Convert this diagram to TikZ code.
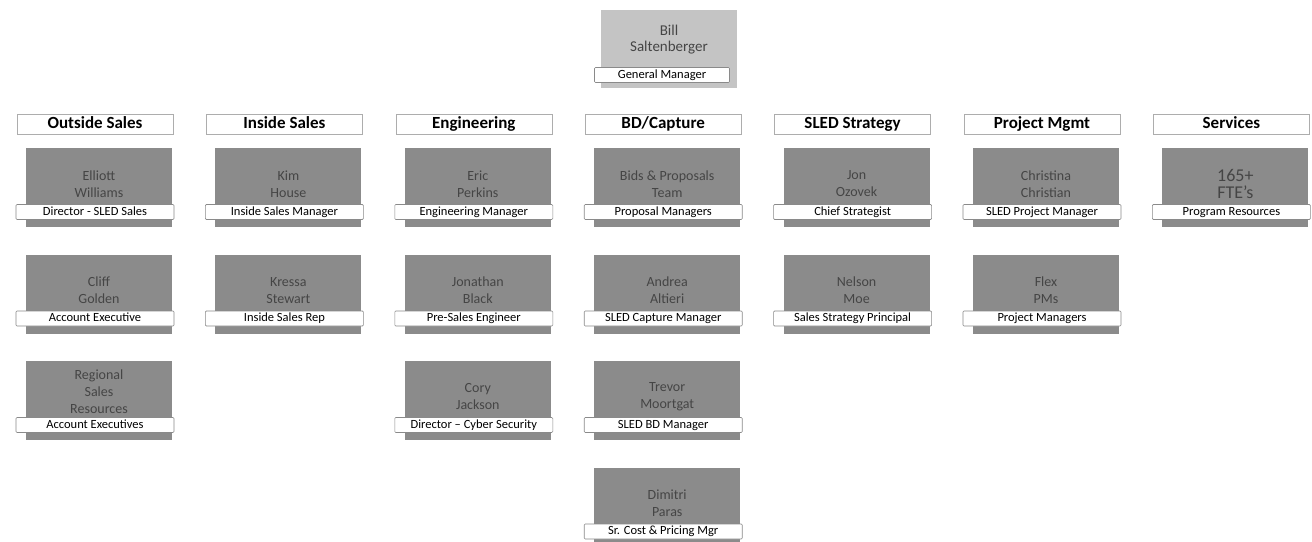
\documentclass[tikz,border=0pt]{standalone}
\usepackage{fontspec}
\setmainfont{Carlito}
\definecolor{boxgray}{HTML}{8B8B8B}
\definecolor{topgray}{HTML}{C4C4C4}
\definecolor{nametxt}{HTML}{454545}
\definecolor{edgegray}{HTML}{8A8A8A}
\tikzset{
  namebox/.style={draw=none, fill=boxgray, inner sep=0pt, minimum width=146pt, minimum height=79pt},
  topbox/.style={draw=none, fill=topgray, inner sep=0pt, minimum width=136pt, minimum height=78pt},
  nametext/.style={text=nametxt, font=\fontsize{14}{17}\selectfont, align=center, inner sep=0pt},
  titlebox/.style={draw=edgegray, line width=0.6pt, fill=white, rounded corners=1pt, inner sep=0pt, minimum width=158pt, minimum height=15pt, text height=9pt, text depth=2.5pt, font=\fontsize{12.5}{13}\selectfont},
  headbox/.style={draw=edgegray!70, line width=0.5pt, fill=white, inner sep=0pt, minimum width=156pt, minimum height=20pt, text height=12pt, text depth=3.5pt, font=\bfseries\fontsize{17}{18}\selectfont}
}
\newcommand\orgperson[6][36]{%
  \pgfmathsetmacro\cx{99+189.4*#3}%
  \pgfmathsetmacro\ty{148+106.5*#4}%
  \node[namebox, anchor=north] (#2) at (\cx,\ty) {};
  \node[nametext] (#2t) at (\cx,\ty+#1) {#5};
  \node[titlebox] (#2l) at (\cx-4,\ty+64) {#6};
}
\newcommand\orghead[3]{%
  \pgfmathsetmacro\cx{95+189.4*#2}%
  \node[headbox] (#1) at (\cx,124) {#3};
}
\begin{document}
\begin{tikzpicture}[x=1pt,y=-1pt]
\useasboundingbox[fill=white] (0,0) rectangle (1312,541);
% top
\node[topbox, anchor=north] (gm) at (669,10) {};
\node[nametext, font=\fontsize{15}{16}\selectfont] (gmt) at (669,40) {Bill\\Saltenberger};
\node[titlebox, minimum width=135pt] (gml) at (662,75) {General Manager};
% headers
\orghead{h0}{0}{Outside Sales}
\orghead{h1}{1}{Inside Sales}
\orghead{h2}{2}{Engineering}
\orghead{h3}{3}{BD/Capture}
\orghead{h4}{4}{SLED Strategy}
\orghead{h5}{5}{Project Mgmt}
\orghead{h6}{6}{Services}
% column 0
\orgperson{p00}{0}{0}{Elliott\\Williams}{Director - SLED Sales}
\orgperson{p01}{0}{1}{Cliff\\Golden}{Account Executive}
\orgperson[31]{p02}{0}{2}{Regional\\Sales\\Resources}{Account Executives}
% column 1
\orgperson{p10}{1}{0}{Kim\\House}{Inside Sales Manager}
\orgperson{p11}{1}{1}{Kressa\\Stewart}{Inside Sales Rep}
% column 2
\orgperson{p20}{2}{0}{Eric\\Perkins}{Engineering Manager}
\orgperson{p21}{2}{1}{Jonathan\\Black}{Pre-Sales Engineer}
\orgperson{p22}{2}{2}{Cory\\Jackson}{Director – Cyber Security}
% column 3
\orgperson{p30}{3}{0}{Bids \& Proposals\\Team}{Proposal Managers}
\orgperson{p31}{3}{1}{Andrea\\Altieri}{SLED Capture Manager}
\orgperson{p32}{3}{2}{Trevor\\Moortgat}{SLED BD Manager}
\orgperson{p33}{3}{3}{Dimitri\\Paras}{Sr. Cost \& Pricing Mgr}
% column 4
\orgperson{p40}{4}{0}{Jon\\Ozovek}{Chief Strategist}
\orgperson{p41}{4}{1}{Nelson\\Moe}{Sales Strategy Principal}
% column 5
\orgperson{p50}{5}{0}{Christina\\Christian}{SLED Project Manager}
\orgperson{p51}{5}{1}{Flex\\PMs}{Project Managers}
% column 6
\orgperson{p60}{6}{0}{\fontsize{18}{20}\selectfont 165+\\\fontsize{18}{20}\selectfont FTE's}{Program Resources}
\end{tikzpicture}
\end{document}
